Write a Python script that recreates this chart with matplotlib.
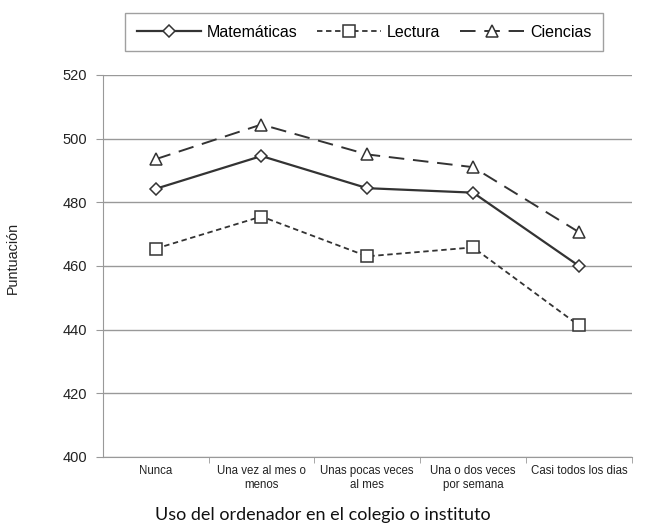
import matplotlib.pyplot as plt
from matplotlib.ticker import FixedLocator

categorias = ["Nunca", "Una vez al mes o\nmenos", "Unas pocas veces\nal mes",
              "Una o dos veces\npor semana", "Casi todos los dias"]
matematicas = [484.2, 494.5, 484.4, 483.0, 460.0]
lectura = [465.4, 475.5, 463.0, 465.8, 441.3]
ciencias = [493.5, 504.4, 495.0, 491.0, 470.6]

plt.rcParams['font.family'] = ['Liberation Sans', 'DejaVu Sans']

fig = plt.figure(figsize=(6.5, 5.27), dpi=100)
ax = fig.add_axes([0.158, 0.133, 0.814, 0.725])

col = "#333333"
x = range(len(categorias))
ax.plot(x, matematicas, color=col, lw=1.6, marker="D", ms=6, mfc="white",
        mec=col, mew=1.1, label="Matemáticas", zorder=3)
ax.plot(x, lectura, color=col, lw=1.3, ls=(0, (3, 2)), marker="s", ms=9,
        mfc="white", mec=col, mew=1.1, label="Lectura", zorder=3)
ax.plot(x, ciencias, color=col, lw=1.4, ls=(0, (8, 4.5)), marker="^", ms=8,
        mfc="white", mec=col, mew=1.1, label="Ciencias", zorder=3)

ax.set_xlim(-0.5, 4.5)
ax.set_ylim(400, 520)
ax.set_yticks(range(400, 521, 20))
ax.set_xticks(list(x))
ax.set_xticklabels(categorias, fontsize=8.3, color="#222222")
ax.xaxis.set_minor_locator(FixedLocator([0.5, 1.5, 2.5, 3.5, 4.5]))
ax.tick_params(axis="x", which="major", length=0, pad=6)
ax.tick_params(axis="x", which="minor", length=4, color="#999999")
ax.tick_params(axis="y", length=5, color="#999999", labelsize=10.5,
               labelcolor="#222222", pad=6)

ax.grid(axis="y", color="#999999", lw=1)
ax.set_axisbelow(True)
for s in ["top", "right"]:
    ax.spines[s].set_visible(False)
ax.spines["left"].set_color("#999999")
ax.spines["bottom"].set_color("#999999")

ax.set_ylabel("Puntuación", fontsize=10.4, color="#222222")
ax.yaxis.set_label_coords(-0.157, 0.52)
ax.set_xlabel("Uso del ordenador en el colegio o instituto", fontsize=13,
              family=["Lato", "DejaVu Sans"], color="#111111")
ax.xaxis.set_label_coords(0.416, -0.132)

leg = fig.legend(loc="center", bbox_to_anchor=(0.56, 0.939), ncol=3,
                 fontsize=11.5, frameon=True, fancybox=False,
                 handlelength=4.0, columnspacing=1.2, borderpad=0.7,
                 handletextpad=0.4)
leg.get_frame().set_edgecolor("#888888")
leg.get_frame().set_linewidth(1)

fig.savefig("out.png", dpi=100)
